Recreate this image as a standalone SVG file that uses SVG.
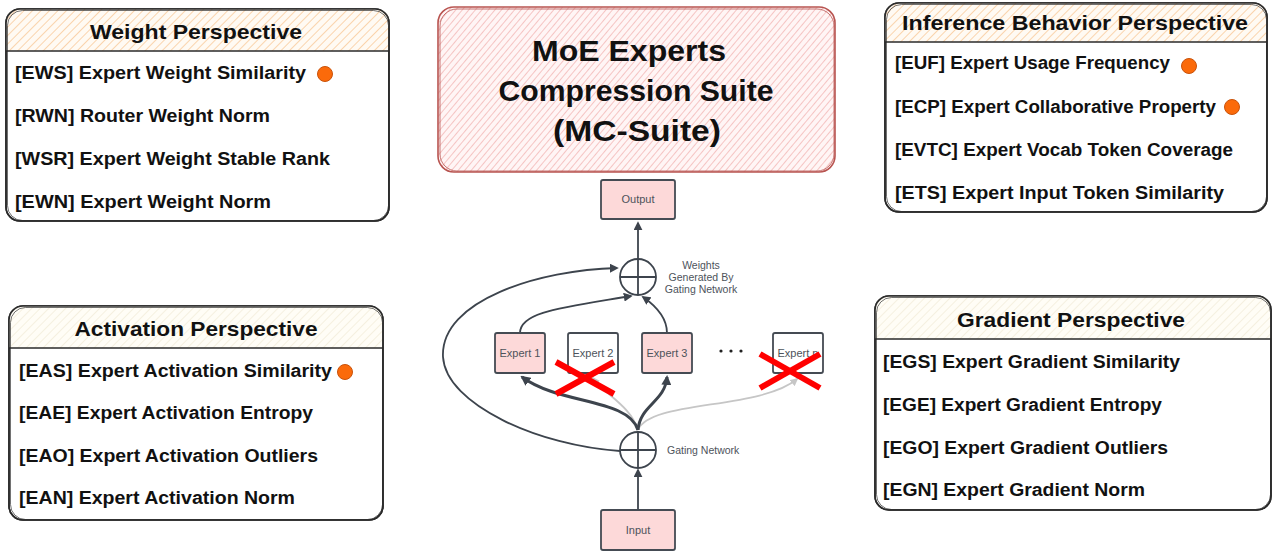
<svg xmlns="http://www.w3.org/2000/svg" width="1275" height="552" viewBox="0 0 1275 552">
<defs>
<pattern id="hOrange" width="6" height="6" patternUnits="userSpaceOnUse" patternTransform="rotate(45)"><rect width="6" height="6" fill="#fffaf3"/><line x1="0" y1="0" x2="0" y2="6" stroke="#f8c48f" stroke-width="1.4"/></pattern>
<pattern id="hBeige" width="6" height="6" patternUnits="userSpaceOnUse" patternTransform="rotate(45)"><rect width="6" height="6" fill="#fffdf6"/><line x1="0" y1="0" x2="0" y2="6" stroke="#efe8d2" stroke-width="1.2"/></pattern>
<pattern id="hRed" width="5" height="5" patternUnits="userSpaceOnUse" patternTransform="rotate(40)"><rect width="5" height="5" fill="#fff5f5"/><line x1="0" y1="0" x2="0" y2="5" stroke="#efa4a2" stroke-width="1.2"/></pattern>
<marker id="ad" viewBox="0 0 10 10" refX="8" refY="5" markerWidth="9" markerHeight="9" markerUnits="userSpaceOnUse" orient="auto"><path d="M0,0 L10,5 L0,10 Z" fill="#3d444d"/></marker>
<marker id="adt" viewBox="0 0 10 10" refX="8" refY="5" markerWidth="10" markerHeight="10" markerUnits="userSpaceOnUse" orient="auto"><path d="M0,0 L10,5 L0,10 Z" fill="#3d444d"/></marker>
<marker id="al" viewBox="0 0 10 10" refX="8" refY="5" markerWidth="8" markerHeight="8" markerUnits="userSpaceOnUse" orient="auto"><path d="M0,0 L10,5 L0,10 Z" fill="#c6c6c6"/></marker>
</defs>
<style>
.box{fill:#fff;stroke:#2a2a2a;stroke-width:1.6}
.box2{fill:none;stroke:#3a3a3a;stroke-width:0.9;opacity:0.8}
.hl{stroke:#2a2a2a;stroke-width:1.6}
.ttl{font-family:"Comic Sans MS","Liberation Sans",sans-serif;font-weight:bold;font-size:21px;fill:#111;text-anchor:middle;dominant-baseline:central}
.itm{font-family:"Comic Sans MS","Liberation Sans",sans-serif;font-weight:bold;font-size:18px;fill:#111;dominant-baseline:central}
.big{font-family:"Comic Sans MS","Liberation Sans",sans-serif;font-weight:bold;font-size:30px;fill:#111;text-anchor:middle;dominant-baseline:central}
.dot{fill:#fb6a0a;stroke:#c9520a;stroke-width:1}
.nd{fill:#fdd9d9;stroke:#454b53;stroke-width:1.8}
.ndw{fill:#fff;stroke:#454b53;stroke-width:1.8}
.lbl{font-family:"Liberation Sans",Arial,sans-serif;font-size:11px;fill:#4d535b;text-anchor:middle;dominant-baseline:central}
.lbll{font-family:"Liberation Sans",Arial,sans-serif;font-size:10.5px;fill:#4d535b;dominant-baseline:central}
.cir{fill:#fff;stroke:#3d444d;stroke-width:1.8}
.dk{fill:none;stroke:#3d444d;stroke-width:1.8}
.dkt{fill:none;stroke:#3d444d;stroke-width:3}
.lt{fill:none;stroke:#c6c6c6;stroke-width:1.8}
.x{stroke:#ff0000;stroke-width:6}
</style>

<g id="weight-perspective">
<rect class="box" x="6" y="9" width="383" height="212" rx="14"/>
<path d="M6,51 V23 Q6,9 20,9 H375 Q389,9 389,23 V51 Z" fill="url(#hOrange)"/>
<rect class="box2" x="7.5" y="10.5" width="381" height="210" rx="15"/>
<rect class="box" x="6" y="9" width="383" height="212" rx="14" style="fill:none"/>
<line class="hl" x1="6" y1="51" x2="389" y2="51"/>
<text class="ttl" x="196" y="31" textLength="212" lengthAdjust="spacingAndGlyphs">Weight Perspective</text>
<text class="itm" x="15" y="73" textLength="291" lengthAdjust="spacingAndGlyphs">[EWS] Expert Weight Similarity</text>
<circle class="dot" cx="325" cy="74" r="7.5"/>
<text class="itm" x="15" y="116" textLength="255" lengthAdjust="spacingAndGlyphs">[RWN] Router Weight Norm</text>
<text class="itm" x="15" y="159" textLength="315" lengthAdjust="spacingAndGlyphs">[WSR] Expert Weight Stable Rank</text>
<text class="itm" x="15" y="202" textLength="256" lengthAdjust="spacingAndGlyphs">[EWN] Expert Weight Norm</text>
</g>

<g id="title">
<rect x="438" y="7" width="397" height="165" rx="16" fill="url(#hRed)" stroke="#b85450" stroke-width="1.6"/>
<rect x="440" y="9" width="394" height="162" rx="17" fill="none" stroke="#b85450" stroke-width="1" opacity="0.8"/>
<text class="big" x="629" y="50" textLength="194" lengthAdjust="spacingAndGlyphs">MoE Experts</text>
<text class="big" x="636" y="90" textLength="275" lengthAdjust="spacingAndGlyphs">Compression Suite</text>
<text class="big" x="637" y="130" textLength="168" lengthAdjust="spacingAndGlyphs">(MC-Suite)</text>
</g>

<g id="inference-perspective">
<rect class="box" x="885" y="3" width="382" height="209" rx="14"/>
<path d="M885,42 V17 Q885,3 899,3 H1253 Q1267,3 1267,17 V42 Z" fill="url(#hOrange)"/>
<rect class="box2" x="886.5" y="4.5" width="380" height="207" rx="15"/>
<rect class="box" x="885" y="3" width="382" height="209" rx="14" style="fill:none"/>
<line class="hl" x1="885" y1="42" x2="1267" y2="42"/>
<text class="ttl" x="1075" y="22" textLength="346" lengthAdjust="spacingAndGlyphs">Inference Behavior Perspective</text>
<text class="itm" x="895" y="63" textLength="275" lengthAdjust="spacingAndGlyphs">[EUF] Expert Usage Frequency</text>
<circle class="dot" cx="1189" cy="66" r="7.5"/>
<text class="itm" x="895" y="107" textLength="321" lengthAdjust="spacingAndGlyphs">[ECP] Expert Collaborative Property</text>
<circle class="dot" cx="1232" cy="107" r="7.5"/>
<text class="itm" x="895" y="150" textLength="338" lengthAdjust="spacingAndGlyphs">[EVTC] Expert Vocab Token Coverage</text>
<text class="itm" x="895" y="193" textLength="329" lengthAdjust="spacingAndGlyphs">[ETS] Expert Input Token Similarity</text>
</g>

<g id="activation-perspective">
<rect class="box" x="9" y="306" width="374" height="214" rx="14"/>
<path d="M9,348 V320 Q9,306 23,306 H369 Q383,306 383,320 V348 Z" fill="url(#hBeige)"/>
<rect class="box2" x="10.5" y="307.5" width="372" height="212" rx="15"/>
<rect class="box" x="9" y="306" width="374" height="214" rx="14" style="fill:none"/>
<line class="hl" x1="9" y1="348" x2="383" y2="348"/>
<text class="ttl" x="196" y="328" textLength="243" lengthAdjust="spacingAndGlyphs">Activation Perspective</text>
<text class="itm" x="19" y="371" textLength="313" lengthAdjust="spacingAndGlyphs">[EAS] Expert Activation Similarity</text>
<circle class="dot" cx="345" cy="372" r="7.5"/>
<text class="itm" x="19" y="413" textLength="294" lengthAdjust="spacingAndGlyphs">[EAE] Expert Activation Entropy</text>
<text class="itm" x="19" y="456" textLength="299" lengthAdjust="spacingAndGlyphs">[EAO] Expert Activation Outliers</text>
<text class="itm" x="19" y="498" textLength="276" lengthAdjust="spacingAndGlyphs">[EAN] Expert Activation Norm</text>
</g>

<g id="gradient-perspective">
<rect class="box" x="875" y="296" width="396" height="214" rx="14"/>
<path d="M875,339 V310 Q875,296 889,296 H1257 Q1271,296 1271,310 V339 Z" fill="url(#hBeige)"/>
<rect class="box2" x="876.5" y="297.5" width="394" height="212" rx="15"/>
<rect class="box" x="875" y="296" width="396" height="214" rx="14" style="fill:none"/>
<line class="hl" x1="875" y1="339" x2="1271" y2="339"/>
<text class="ttl" x="1071" y="319" textLength="228" lengthAdjust="spacingAndGlyphs">Gradient Perspective</text>
<text class="itm" x="883" y="362" textLength="297" lengthAdjust="spacingAndGlyphs">[EGS] Expert Gradient Similarity</text>
<text class="itm" x="883" y="405" textLength="279" lengthAdjust="spacingAndGlyphs">[EGE] Expert Gradient Entropy</text>
<text class="itm" x="883" y="448" textLength="285" lengthAdjust="spacingAndGlyphs">[EGO] Expert Gradient Outliers</text>
<text class="itm" x="883" y="490" textLength="262" lengthAdjust="spacingAndGlyphs">[EGN] Expert Gradient Norm</text>
</g>

<g id="connectors">
<path class="dk" d="M638,259 L638,223" marker-end="url(#ad)"/>
<path class="dk" d="M638,509 L638,470" marker-end="url(#ad)"/>
<path class="dk" d="M620,451 C540,446 446,405 443,357 C440,300 540,270 617,268" marker-end="url(#ad)"/>
<path class="dk" d="M520,333 C520,312 560,308 631,296" marker-end="url(#ad)"/>
<path class="dk" d="M667,333 C667,318 656,306 643,297" marker-end="url(#ad)"/>
<path class="lt" d="M638,430 C630,405 605,395 593,378" marker-end="url(#al)"/>
<path class="lt" d="M638,430 C650,400 760,410 797,379" marker-end="url(#al)"/>
<path class="dkt" d="M638,430 C628,398 560,405 522,377" marker-end="url(#adt)"/>
<path class="dkt" d="M638,430 C640,405 665,402 667,377" marker-end="url(#adt)"/>
</g>

<g id="output"><rect class="nd" x="601" y="180" width="74" height="39" rx="2"/><text class="lbl" x="638" y="199">Output</text></g>
<g id="weights-sum">
<circle class="cir" cx="638" cy="277" r="18"/>
<path class="dk" d="M620,277 H656 M638,259 V295"/>
<text class="lbll" x="701" y="265" text-anchor="middle">Weights</text>
<text class="lbll" x="701" y="277" text-anchor="middle">Generated By</text>
<text class="lbll" x="701" y="289" text-anchor="middle">Gating Network</text>
</g>
<g id="expert1"><rect class="nd" x="495" y="333" width="50" height="40" rx="2"/><text class="lbl" x="520" y="353">Expert 1</text></g>
<g id="expert2"><rect class="ndw" x="568" y="333" width="50" height="40" rx="2"/><text class="lbl" x="593" y="353">Expert 2</text></g>
<g id="expert3"><rect class="nd" x="642" y="333" width="50" height="40" rx="2"/><text class="lbl" x="667" y="353">Expert 3</text></g>
<g id="dots"><circle cx="721" cy="351" r="1.6" fill="#222"/><circle cx="731" cy="351" r="1.6" fill="#222"/><circle cx="741" cy="351" r="1.6" fill="#222"/></g>
<g id="expertn"><rect class="ndw" x="773" y="333" width="50" height="40" rx="2"/><text class="lbl" x="798" y="353">Expert n</text></g>
<g id="gating">
<circle class="cir" cx="638" cy="450" r="18"/>
<path class="dk" d="M620,450 H656 M638,432 V468"/>
<text class="lbll" x="667" y="450">Gating Network</text>
</g>
<g id="input"><rect class="nd" x="601" y="510" width="74" height="40" rx="2"/><text class="lbl" x="638" y="530">Input</text></g>
<g id="cross2"><line class="x" x1="556" y1="362" x2="614" y2="394"/><line class="x" x1="556" y1="394" x2="614" y2="362"/></g>
<g id="crossn"><line class="x" x1="760" y1="354" x2="820" y2="388"/><line class="x" x1="760" y1="388" x2="820" y2="354"/></g>
</svg>
